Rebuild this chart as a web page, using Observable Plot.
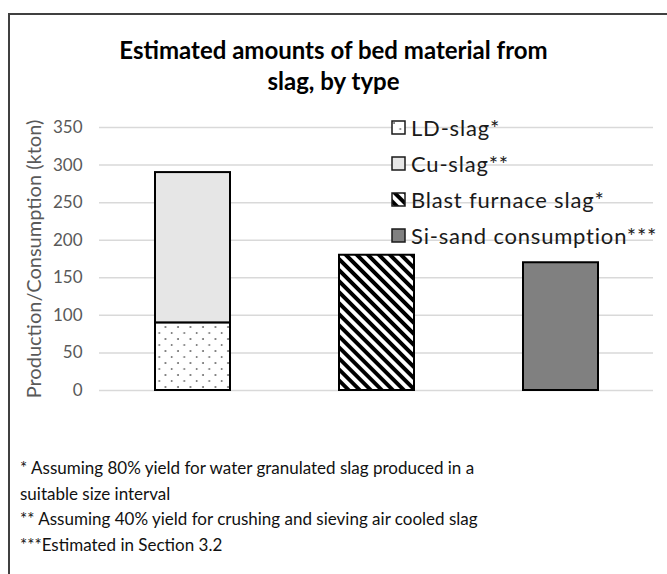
<!DOCTYPE html>
<html>
<head>
<meta charset="utf-8">
<script src="https://cdn.jsdelivr.net/npm/d3@7"></script>
<script src="https://cdn.jsdelivr.net/npm/@observablehq/plot@0.6"></script>
<style>
  html, body { margin: 0; padding: 0; background: #fff; }
  body { width: 667px; height: 574px; overflow: hidden; position: relative; font-family: Lato, "Open Sans", sans-serif; }
  #frame { position: absolute; left: 8px; top: 13px; width: 700px; height: 620px; border: 2px solid #404040; box-sizing: border-box; }
  #title { position: absolute; left: 0; width: 667px; top: 34px; text-align: center; font-weight: bold; font-size: 24px; line-height: 31px; color: #000; }
  #chart { position: absolute; left: 0; top: 0; }
  #ylabel { position: absolute; left: 33px; top: 259px; transform: translate(-50%, -50%) rotate(-90deg); white-space: nowrap; font-size: 20px; color: #595959; }
  #legend { position: absolute; left: 391px; top: 109px; font-size: 22px; letter-spacing: 0.8px; color: #1a1a1a; }
  .li { display: flex; align-items: center; height: 36px; }
  .li svg { margin-right: 5px; }
  #notes { position: absolute; left: 20px; top: 455px; font-size: 17px; line-height: 25.5px; color: #111; }
</style>
</head>
<body>
<div id="frame"></div>
<div id="title">Estimated amounts of bed material from<br>slag, by type</div>
<div id="chart"></div>
<div id="ylabel">Production/Consumption (kton)</div>
<div id="legend"></div>
<div id="notes">
  <div>* Assuming 80% yield for water granulated slag produced in a</div>
  <div>suitable size interval</div>
  <div>** Assuming 40% yield for crushing and sieving air cooled slag</div>
  <div>***Estimated in Section 3.2</div>
</div>
<script>
// Data
const groups = ["LD/Cu-slag", "Blast furnace slag", "Si-sand"];
const seriesNames = ["LD-slag*", "Cu-slag**", "Blast furnace slag*", "Si-sand consumption***"];
const seriesGroup = ["LD/Cu-slag", "LD/Cu-slag", "Blast furnace slag", "Si-sand"];
const seriesValues = [90, 200, 180, 170];
const yTicks = [0, 50, 100, 150, 200, 250, 300, 350];
const seriesFill = ["url(#pDots)", "#e6e6e6", "url(#pStripes)", "#808080"];

const data = seriesNames.map((s, i) => ({series: s, group: seriesGroup[i], value: seriesValues[i], fill: seriesFill[i]}));

const defsMarkup = `
<pattern id="pDots" patternUnits="userSpaceOnUse" width="12.5" height="12" x="0" y="0">
  <rect width="12.5" height="12" fill="#fff"/>
  <circle cx="3" cy="3" r="0.9" fill="#555"/>
  <circle cx="9.25" cy="9" r="0.9" fill="#666"/>
</pattern>
<pattern id="pStripes" patternUnits="userSpaceOnUse" width="7.8" height="10" patternTransform="rotate(-45)">
  <rect width="7.8" height="10" fill="#fff"/>
  <rect x="0" y="0" width="3.9" height="10" fill="#000"/>
</pattern>`;

const plot = Plot.plot({
  width: 667,
  height: 574,
  marginLeft: 99,
  marginRight: 14,
  marginTop: 127,
  marginBottom: 184,
  style: {background: "transparent", fontFamily: "Lato, 'Open Sans', sans-serif", fontSize: "17px", color: "#595959"},
  x: {domain: groups, paddingInner: 0.595, paddingOuter: 0.2975, axis: null},
  y: {domain: [0, 350], ticks: yTicks, label: null},
  color: {type: "identity"},
  marks: [
    Plot.gridY(yTicks, {stroke: "#d9d9d9", strokeOpacity: 1, strokeWidth: 1.5}),
    Plot.axisY(yTicks, {tickSize: 0, tickPadding: 17, label: null, fill: "#595959"}),
    Plot.barY(data, {x: "group", y: "value", fill: "fill", stroke: "#000", strokeWidth: 2})
  ]
});
const defs = document.createElementNS("http://www.w3.org/2000/svg", "defs");
defs.innerHTML = defsMarkup;
plot.insertBefore(defs, plot.firstChild);
document.getElementById("chart").appendChild(plot);

// Legend
const legend = document.getElementById("legend");
seriesNames.forEach((s, i) => {
  const row = document.createElement("div");
  row.className = "li";
  row.innerHTML = `<svg width="15" height="15"><defs>${defsMarkup.replace(/id="p/g, 'id="lg' + i + 'p')}</defs><rect x="1" y="1" width="13" height="13" fill="${seriesFill[i].replace('#p', '#lg' + i + 'p')}" stroke="#1a1a1a" stroke-width="1.5"/></svg><span>${s}</span>`;
  legend.appendChild(row);
});
</script>
</body>
</html>
